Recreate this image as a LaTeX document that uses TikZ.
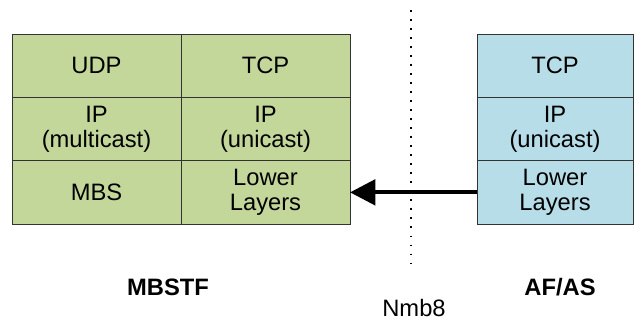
\documentclass[tikz,border=0pt]{standalone}
\usepackage{fontspec}
\setmainfont{Liberation Sans}
\usepackage{xcolor}
\usepackage{tikz}
\usetikzlibrary{arrows.meta,positioning}

\definecolor{mbsgreen}{RGB}{196,215,155}
\definecolor{afblue}{RGB}{183,222,232}

\begin{document}
\begin{tikzpicture}[x=0.75pt,y=-0.75pt,
		layer/.style={draw=black!80, line width=0.75pt, minimum height=47.5pt, inner sep=0pt, outer sep=0pt, align=center, font=\fontsize{17.8}{19}\selectfont},
		greencell/.style={layer, fill=mbsgreen, minimum width=126.75pt},
		bluecell/.style={layer, fill=afblue, minimum width=117pt},
		entity/.style={inner sep=1pt, font=\fontsize{17.8}{19}\selectfont\bfseries},
		refpoint/.style={inner sep=0.5pt, font=\fontsize{17.8}{19}\selectfont},
		nmbline/.style={line width=1.3pt, dash pattern=on 1.3pt off 5.45pt},
		flow/.style={line width=3pt, -{Triangle[length=19pt,width=19pt]}}]
		\useasboundingbox (0,0) rectangle (634,320);

		% MBSTF protocol stack
		\node[greencell] (udp) at (96.5,65.7) {UDP};
		\node[greencell, right=0pt of udp] (tcpL) {TCP};
		\node[greencell, below=0pt of udp] (ipM) {IP\\(multicast)};
		\node[greencell, below=0pt of tcpL] (ipL) {IP\\(unicast)};
		\node[greencell, below=0pt of ipM] (mbs) {MBS};
		\node[greencell, below=0pt of ipL] (lowL) {Lower\\Layers};

		% AF/AS protocol stack
		\node[bluecell] (tcpR) at (555,65.7) {TCP};
		\node[bluecell, below=0pt of tcpR] (ipR) {IP\\(unicast)};
		\node[bluecell, below=0pt of ipR] (lowR) {Lower\\Layers};

		% reference point
		\coordinate (ntop) at (410.7,10.5);
		\coordinate (nbot) at (410.7,263);
		\draw[nmbline] (ntop) -- (nbot);
		\draw[flow] (lowR.west) -- (lowL.east);

		\node[entity] (mbstf) at (168,287) {MBSTF};
		\node[entity] (afas) at (560,287) {AF/AS};
		\node[refpoint] (nmb8) at (414,308.5) {Nmb8};
	\end{tikzpicture}
\end{document}
